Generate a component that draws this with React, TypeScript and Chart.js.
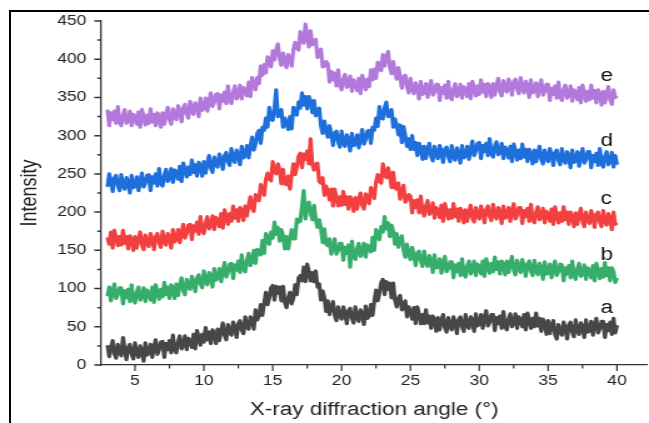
import React, { useEffect, useRef } from "react";
import { Chart, registerables } from "chart.js";

Chart.register(...registerables);

// diffraction angle 2θ (°), one row per degree
const angles = [
  3, 3.125, 3.25, 3.375, 3.5, 3.625, 3.75, 3.875,
  4, 4.125, 4.25, 4.375, 4.5, 4.625, 4.75, 4.875,
  5, 5.125, 5.25, 5.375, 5.5, 5.625, 5.75, 5.875,
  6, 6.125, 6.25, 6.375, 6.5, 6.625, 6.75, 6.875,
  7, 7.125, 7.25, 7.375, 7.5, 7.625, 7.75, 7.875,
  8, 8.125, 8.25, 8.375, 8.5, 8.625, 8.75, 8.875,
  9, 9.125, 9.25, 9.375, 9.5, 9.625, 9.75, 9.875,
  10, 10.125, 10.25, 10.375, 10.5, 10.625, 10.75, 10.875,
  11, 11.125, 11.25, 11.375, 11.5, 11.625, 11.75, 11.875,
  12, 12.125, 12.25, 12.375, 12.5, 12.625, 12.75, 12.875,
  13, 13.125, 13.25, 13.375, 13.5, 13.625, 13.75, 13.875,
  14, 14.125, 14.25, 14.375, 14.5, 14.625, 14.75, 14.875,
  15, 15.125, 15.25, 15.375, 15.5, 15.625, 15.75, 15.875,
  16, 16.125, 16.25, 16.375, 16.5, 16.625, 16.75, 16.875,
  17, 17.125, 17.25, 17.375, 17.5, 17.625, 17.75, 17.875,
  18, 18.125, 18.25, 18.375, 18.5, 18.625, 18.75, 18.875,
  19, 19.125, 19.25, 19.375, 19.5, 19.625, 19.75, 19.875,
  20, 20.125, 20.25, 20.375, 20.5, 20.625, 20.75, 20.875,
  21, 21.125, 21.25, 21.375, 21.5, 21.625, 21.75, 21.875,
  22, 22.125, 22.25, 22.375, 22.5, 22.625, 22.75, 22.875,
  23, 23.125, 23.25, 23.375, 23.5, 23.625, 23.75, 23.875,
  24, 24.125, 24.25, 24.375, 24.5, 24.625, 24.75, 24.875,
  25, 25.125, 25.25, 25.375, 25.5, 25.625, 25.75, 25.875,
  26, 26.125, 26.25, 26.375, 26.5, 26.625, 26.75, 26.875,
  27, 27.125, 27.25, 27.375, 27.5, 27.625, 27.75, 27.875,
  28, 28.125, 28.25, 28.375, 28.5, 28.625, 28.75, 28.875,
  29, 29.125, 29.25, 29.375, 29.5, 29.625, 29.75, 29.875,
  30, 30.125, 30.25, 30.375, 30.5, 30.625, 30.75, 30.875,
  31, 31.125, 31.25, 31.375, 31.5, 31.625, 31.75, 31.875,
  32, 32.125, 32.25, 32.375, 32.5, 32.625, 32.75, 32.875,
  33, 33.125, 33.25, 33.375, 33.5, 33.625, 33.75, 33.875,
  34, 34.125, 34.25, 34.375, 34.5, 34.625, 34.75, 34.875,
  35, 35.125, 35.25, 35.375, 35.5, 35.625, 35.75, 35.875,
  36, 36.125, 36.25, 36.375, 36.5, 36.625, 36.75, 36.875,
  37, 37.125, 37.25, 37.375, 37.5, 37.625, 37.75, 37.875,
  38, 38.125, 38.25, 38.375, 38.5, 38.625, 38.75, 38.875,
  39, 39.125, 39.25, 39.375, 39.5, 39.625, 39.75, 39.875,
  40,
];

const seriesA = [
  26, 11, 23, 32, 15, 9, 27, 17,
  12, 36, 21, 7, 23, 27, 14, 8,
  29, 15, 10, 25, 19, 5, 29, 13,
  15, 27, 10, 23, 33, 14, 20, 30,
  31, 10, 28, 20, 32, 16, 39, 20,
  16, 30, 38, 21, 26, 38, 20, 35,
  32, 23, 40, 21, 45, 36, 26, 40,
  30, 49, 33, 43, 28, 46, 42, 28,
  47, 32, 45, 55, 39, 33, 53, 43,
  39, 56, 49, 36, 54, 58, 46, 41,
  63, 50, 47, 63, 59, 47, 72, 59,
  64, 79, 65, 81, 95, 79, 88, 101,
  104, 85, 103, 94, 102, 84, 103, 82,
  75, 88, 95, 80, 88, 105, 92, 114,
  117, 110, 128, 109, 132, 122, 110, 121,
  109, 123, 102, 106, 85, 97, 88, 70,
  84, 66, 76, 83, 65, 58, 76, 65,
  60, 76, 68, 54, 71, 74, 61, 55,
  76, 62, 57, 72, 67, 53, 77, 61,
  64, 79, 65, 83, 98, 84, 94, 108,
  112, 92, 109, 99, 107, 88, 107, 85,
  76, 87, 91, 72, 74, 84, 63, 76,
  70, 60, 75, 54, 76, 66, 54, 66,
  54, 72, 55, 64, 48, 64, 59, 44,
  62, 46, 58, 66, 49, 43, 62, 51,
  46, 63, 55, 41, 59, 63, 50, 44,
  66, 52, 48, 63, 58, 44, 67, 51,
  54, 66, 48, 61, 71, 51, 56, 66,
  66, 45, 62, 54, 64, 48, 70, 51,
  46, 60, 67, 50, 55, 67, 48, 63,
  59, 50, 66, 46, 68, 59, 48, 61,
  50, 68, 51, 61, 44, 60, 55, 40,
  58, 41, 51, 58, 40, 34, 53, 43,
  39, 56, 48, 34, 52, 56, 43, 37,
  59, 45, 40, 55, 50, 36, 59, 43,
  45, 57, 39, 52, 61, 42, 47, 57,
  57, 36, 53, 45, 56, 40, 61, 42,
  52,
];

const seriesB = [
  90, 102, 84, 96, 106, 87, 92, 101,
  101, 80, 97, 88, 99, 83, 105, 86,
  81, 95, 102, 85, 89, 101, 83, 98,
  94, 85, 102, 82, 105, 96, 86, 99,
  89, 108, 92, 102, 87, 105, 101, 87,
  106, 91, 104, 114, 98, 92, 112, 103,
  99, 116, 109, 96, 114, 118, 106, 101,
  123, 109, 105, 121, 116, 102, 126, 111,
  114, 126, 109, 123, 134, 115, 121, 132,
  133, 113, 131, 124, 136, 121, 144, 126,
  122, 137, 146, 130, 136, 150, 133, 151,
  150, 144, 163, 146, 172, 166, 158, 174,
  166, 187, 171, 180, 162, 177, 169, 152,
  168, 152, 165, 177, 165, 165, 191, 187,
  188, 208, 228, 191, 210, 213, 198, 190,
  209, 190, 180, 190, 179, 160, 178, 158,
  156, 165, 145, 156, 165, 145, 150, 159,
  159, 137, 154, 146, 157, 128, 162, 143,
  138, 152, 159, 142, 147, 159, 141, 157,
  154, 148, 167, 150, 177, 171, 164, 181,
  174, 194, 178, 186, 168, 183, 175, 158,
  172, 154, 163, 169, 150, 141, 158, 145,
  138, 154, 145, 130, 146, 149, 136, 129,
  149, 134, 129, 143, 136, 121, 144, 127,
  128, 139, 120, 132, 142, 122, 126, 135,
  135, 114, 131, 122, 133, 117, 139, 120,
  115, 129, 136, 119, 124, 136, 117, 132,
  128, 119, 136, 116, 139, 130, 120, 133,
  122, 141, 125, 135, 119, 136, 132, 118,
  136, 121, 133, 142, 124, 118, 137, 127,
  121, 138, 130, 116, 132, 136, 123, 117,
  137, 123, 118, 133, 126, 112, 135, 119,
  120, 132, 114, 127, 136, 117, 122, 132,
  131, 110, 127, 119, 130, 114, 136, 117,
  112, 126, 133, 116, 119, 131, 112, 127,
  123, 114, 130, 110, 133, 124, 113, 126,
  115, 134, 117, 127, 110, 127, 122, 108,
  114,
];

const seriesC = [
  167, 158, 174, 153, 176, 167, 156, 168,
  157, 176, 159, 168, 152, 169, 164, 150,
  168, 153, 165, 174, 157, 151, 170, 160,
  155, 172, 165, 151, 168, 172, 160, 154,
  175, 161, 157, 172, 167, 153, 177, 161,
  164, 177, 160, 173, 184, 166, 172, 183,
  184, 164, 182, 175, 187, 171, 194, 176,
  172, 186, 194, 178, 183, 195, 177, 193,
  190, 181, 198, 179, 203, 194, 184, 198,
  188, 208, 192, 203, 188, 206, 202, 189,
  208, 195, 209, 220, 205, 201, 223, 216,
  215, 236, 232, 222, 243, 251, 243, 241,
  266, 254, 250, 263, 255, 237, 256, 237,
  236, 247, 230, 248, 263, 249, 259, 273,
  277, 258, 276, 269, 280, 263, 296, 262,
  255, 263, 264, 240, 238, 245, 222, 234,
  227, 216, 230, 208, 230, 220, 208, 220,
  209, 227, 210, 220, 204, 220, 215, 201,
  219, 204, 216, 225, 209, 204, 224, 215,
  211, 232, 228, 218, 240, 249, 240, 238,
  263, 250, 245, 258, 249, 232, 252, 232,
  230, 238, 217, 227, 235, 213, 216, 223,
  221, 199, 215, 206, 216, 199, 221, 201,
  195, 208, 215, 197, 201, 212, 192, 206,
  202, 193, 209, 188, 211, 202, 191, 203,
  192, 211, 194, 204, 188, 205, 200, 186,
  203, 188, 200, 209, 192, 187, 206, 196,
  191, 208, 200, 186, 203, 208, 195, 189,
  210, 196, 191, 206, 200, 185, 208, 192,
  194, 206, 188, 201, 211, 191, 196, 206,
  206, 185, 202, 194, 205, 188, 210, 191,
  186, 200, 207, 190, 194, 205, 186, 201,
  197, 188, 204, 184, 207, 197, 186, 199,
  188, 207, 190, 200, 184, 200, 195, 181,
  199, 184, 196, 205, 188, 181, 200, 190,
  185, 202, 194, 180, 197, 200, 187, 181,
  202, 188, 183, 198, 192, 177, 200, 184,
  186,
];

const seriesD = [
  233, 250, 242, 227, 244, 248, 235, 228,
  249, 235, 230, 245, 239, 225, 248, 232,
  234, 246, 228, 241, 251, 233, 238, 248,
  249, 228, 246, 238, 250, 234, 257, 238,
  234, 248, 256, 240, 245, 257, 239, 255,
  252, 243, 260, 240, 264, 256, 246, 259,
  249, 268, 252, 262, 247, 265, 261, 247,
  266, 251, 264, 274, 258, 252, 272, 263,
  259, 276, 269, 256, 274, 278, 266, 261,
  283, 269, 265, 281, 276, 262, 286, 271,
  274, 287, 271, 286, 298, 281, 289, 303,
  307, 290, 311, 307, 323, 311, 337, 322,
  320, 336, 360, 325, 326, 334, 311, 323,
  317, 308, 325, 309, 337, 333, 327, 344,
  336, 356, 340, 351, 335, 351, 345, 330,
  346, 326, 332, 336, 313, 303, 319, 306,
  298, 313, 303, 287, 303, 306, 292, 285,
  306, 291, 286, 301, 295, 280, 303, 287,
  289, 301, 284, 297, 308, 289, 295, 306,
  307, 290, 311, 307, 323, 312, 338, 323,
  322, 337, 344, 325, 326, 334, 311, 322,
  314, 301, 314, 291, 312, 300, 286, 296,
  282, 300, 282, 291, 274, 290, 284, 269,
  286, 270, 282, 290, 273, 267, 286, 275,
  270, 287, 279, 265, 282, 285, 272, 266,
  287, 273, 268, 284, 278, 264, 287, 271,
  274, 286, 269, 282, 293, 274, 280, 290,
  291, 270, 287, 279, 290, 274, 296, 277,
  272, 286, 292, 275, 278, 290, 270, 285,
  280, 271, 286, 266, 289, 280, 268, 281,
  270, 289, 272, 282, 266, 282, 277, 263,
  281, 266, 277, 286, 269, 263, 281, 271,
  266, 283, 275, 261, 278, 281, 268, 262,
  283, 269, 264, 279, 273, 258, 281, 265,
  267, 279, 260, 273, 283, 264, 269, 279,
  279, 258, 274, 266, 277, 261, 283, 264,
  259, 273, 279, 262, 266, 278, 259, 274,
  262,
];

const seriesE = [
  334, 313, 330, 321, 332, 316, 338, 318,
  313, 327, 334, 316, 320, 332, 313, 328,
  324, 315, 331, 311, 334, 325, 314, 327,
  316, 335, 318, 328, 313, 330, 325, 311,
  330, 315, 328, 337, 321, 315, 335, 325,
  321, 339, 332, 318, 336, 341, 329, 323,
  345, 332, 328, 343, 338, 325, 349, 333,
  336, 349, 332, 345, 356, 338, 344, 354,
  355, 335, 353, 345, 357, 342, 365, 346,
  342, 357, 365, 348, 353, 366, 348, 363,
  360, 352, 370, 351, 376, 369, 360, 376,
  368, 391, 379, 393, 382, 403, 401, 390,
  411, 399, 413, 420, 401, 392, 408, 396,
  389, 406, 400, 391, 413, 422, 414, 412,
  436, 424, 421, 446, 431, 416, 437, 419,
  420, 426, 402, 409, 413, 390, 391, 397,
  394, 370, 384, 373, 382, 365, 386, 366,
  360, 374, 380, 363, 366, 378, 358, 373,
  368, 359, 375, 355, 379, 370, 360, 374,
  364, 386, 373, 387, 375, 396, 395, 385,
  406, 391, 403, 410, 390, 381, 397, 383,
  374, 389, 378, 362, 377, 379, 364, 356,
  375, 360, 355, 369, 363, 348, 371, 354,
  356, 368, 350, 362, 372, 353, 357, 367,
  367, 346, 363, 355, 366, 349, 371, 352,
  347, 361, 368, 351, 355, 367, 349, 364,
  360, 351, 368, 348, 371, 362, 352, 365,
  354, 373, 357, 367, 351, 368, 364, 350,
  368, 353, 366, 375, 358, 352, 372, 362,
  357, 374, 367, 353, 370, 374, 361, 355,
  376, 362, 356, 371, 365, 350, 373, 356,
  358, 369, 351, 363, 373, 353, 358, 367,
  367, 346, 362, 354, 365, 349, 370, 351,
  346, 360, 366, 349, 353, 365, 345, 360,
  356, 347, 363, 343, 366, 356, 345, 358,
  347, 366, 349, 359, 343, 360, 354, 340,
  358, 343, 355, 364, 347, 341, 360, 350,
  352,
];

const seriesNames = ["a", "b", "c", "d", "e"];
const seriesColors = ["#474747", "#37ad6b", "#f24040", "#1e6fdc", "#b278dc"];
const labelIntensity = [68, 138, 210, 287, 371];
const labelAngle = 38.8;

const xTickValues = [5, 10, 15, 20, 25, 30, 35, 40];
const xMinorValues = [7.5, 12.5, 17.5, 22.5, 27.5, 32.5, 37.5];
const yTickValues = [0, 50, 100, 150, 200, 250, 300, 350, 400, 450];
const yMinorValues = [25, 75, 125, 175, 225, 275, 325, 375, 425];

const FONT = "'Liberation Sans', Arial, sans-serif";
const AXIS_COLOR = "#333";

const tickMarksPlugin = {
  id: "tickMarks",
  afterDraw(chart: any) {
    const ctx = chart.ctx;
    const xs = chart.scales.x;
    const ys = chart.scales.y;
    const area = chart.chartArea;
    ctx.save();
    ctx.strokeStyle = AXIS_COLOR;
    ctx.lineWidth = 1.2;
    ctx.beginPath();
    xTickValues.forEach((v) => {
      const p = xs.getPixelForValue(v);
      ctx.moveTo(p, area.bottom);
      ctx.lineTo(p, area.bottom + 6);
    });
    xMinorValues.forEach((v) => {
      const p = xs.getPixelForValue(v);
      ctx.moveTo(p, area.bottom);
      ctx.lineTo(p, area.bottom + 3.5);
    });
    ctx.stroke();
    ctx.lineWidth = 1.5;
    ctx.beginPath();
    yTickValues.forEach((v) => {
      const p = ys.getPixelForValue(v);
      ctx.moveTo(area.left, p);
      ctx.lineTo(area.left - 5.6, p);
    });
    yMinorValues.forEach((v) => {
      const p = ys.getPixelForValue(v);
      ctx.moveTo(area.left, p);
      ctx.lineTo(area.left - 3.2, p);
    });
    ctx.stroke();
    ctx.fillStyle = "#111";
    ctx.font = `18px ${FONT}`;
    ctx.textAlign = "left";
    ctx.textBaseline = "alphabetic";
    seriesNames.forEach((n, i) => {
      ctx.fillText(n, xs.getPixelForValue(labelAngle), ys.getPixelForValue(labelIntensity[i]));
    });
    ctx.restore();
  },
};

export default function App() {
  const canvasRef = useRef<HTMLCanvasElement | null>(null);

  useEffect(() => {
    if (!canvasRef.current) return;
    const allSeries = [seriesA, seriesB, seriesC, seriesD, seriesE];
    const chart = new Chart(canvasRef.current, {
      type: "line",
      data: {
        datasets: allSeries.map((s, i) => ({
          label: seriesNames[i],
          data: angles.map((a, j) => ({ x: a, y: s[j] })),
          borderColor: seriesColors[i],
          backgroundColor: seriesColors[i],
          borderWidth: 3.2,
          borderJoinStyle: "round" as const,
          pointRadius: 0,
          tension: 0,
          fill: false,
        })),
      },
      options: {
        animation: false,
        responsive: true,
        maintainAspectRatio: false,
        layout: { padding: { top: 21, left: 0, right: 0, bottom: 0 } },
        plugins: { legend: { display: false }, tooltip: { enabled: false } },
        scales: {
          x: {
            type: "linear",
            min: 2.55,
            max: 42.18,
            grid: { display: false, drawTicks: false },
            border: { display: true, color: AXIS_COLOR, width: 1.3 },
            afterBuildTicks: (scale: any) => {
              scale.ticks = xTickValues.map((v) => ({ value: v }));
            },
            afterFit: (scale: any) => {
              scale.height = 58;
            },
            ticks: {
              autoSkip: false,
              maxRotation: 0,
              padding: 8,
              color: "#222",
              font: { family: FONT, size: 14 },
            },
            title: {
              display: true,
              text: "X-ray diffraction angle (°)",
              color: "#222",
              font: { family: FONT, size: 18 },
              padding: { top: 0, bottom: 2 },
            },
          },
          y: {
            type: "linear",
            min: 0,
            max: 450,
            grid: { display: false, drawTicks: false },
            border: { display: true, color: AXIS_COLOR, width: 1.3 },
            afterBuildTicks: (scale: any) => {
              scale.ticks = yTickValues.map((v) => ({ value: v }));
            },
            afterFit: (scale: any) => {
              scale.width = 81;
            },
            ticks: {
              padding: 12,
              color: "#222",
              font: { family: FONT, size: 14 },
            },
            title: {
              display: true,
              text: "Intensity",
              color: "#222",
              font: { family: FONT, size: 18 },
              padding: { top: 13, bottom: 0 },
            },
          },
        },
      },
      plugins: [tickMarksPlugin],
    });
    return () => chart.destroy();
  }, []);

  return (
    <div style={{ position: "fixed", left: 0, top: 0, width: 649, height: 423, background: "#fff", overflow: "hidden" }}>
      <div
        style={{
          position: "absolute",
          left: 0,
          top: 0,
          width: 519,
          height: 423,
          transform: `scaleX(${649 / 519})`,
          transformOrigin: "0 0",
        }}
      >
        <canvas ref={canvasRef} />
      </div>
      <div
        style={{
          position: "absolute",
          left: 9,
          top: 10,
          width: 660,
          height: 440,
          borderTop: "2px solid #000",
          borderLeft: "2px solid #000",
          pointerEvents: "none",
        }}
      />
    </div>
  );
}
